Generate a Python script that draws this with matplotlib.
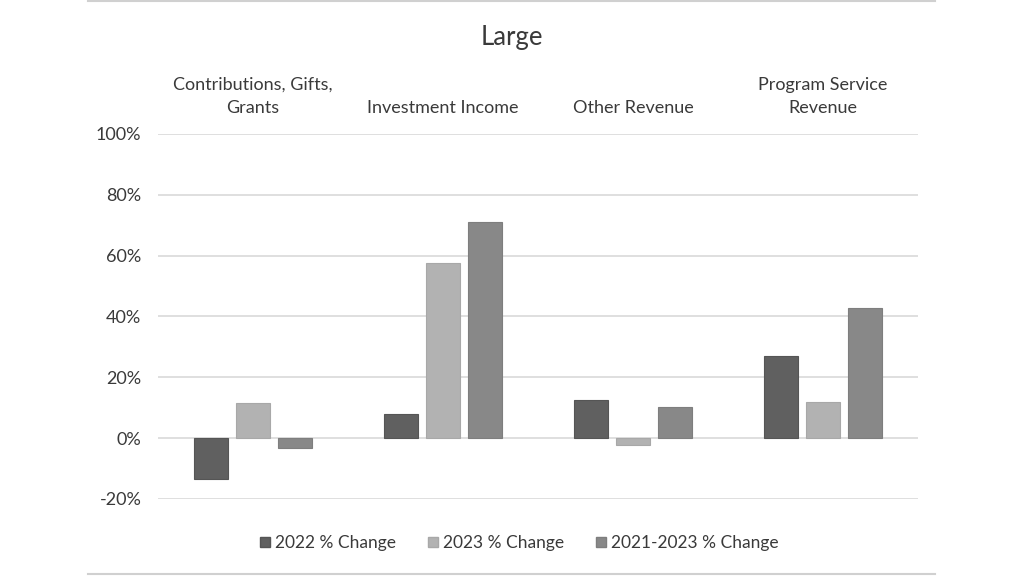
import numpy as np
import matplotlib.pyplot as plt
from matplotlib.lines import Line2D

# ===============================
# DATA
# ===============================
categories = ["Contributions, Gifts,\nGrants", "Investment Income",
              "Other Revenue", "Program Service\nRevenue"]
series_names = ["2022 % Change", "2023 % Change", "2021-2023 % Change"]
change_2022 = [-13.5, 8.1, 12.4, 27.0]
change_2023 = [11.4, 57.6, -2.3, 11.9]
change_2021_2023 = [-3.3, 71.1, 10.2, 42.7]
y_ticks = [-20, 0, 20, 40, 60, 80, 100]

colors = ["#606060", "#b2b2b2", "#888888"]
edges = ["#555555", "#a8a8a8", "#7e7e7e"]
text_color = "#3a3a3a"

plt.rcParams['font.family'] = ['Lato', 'DejaVu Sans']

fig = plt.figure(figsize=(10.24, 5.76), dpi=100)
ax = fig.add_axes([0.1543, 0.1337, 0.7422, 0.6337])

x = np.arange(len(categories))
width = 0.174
step = 0.221
for i, vals in enumerate([change_2022, change_2023, change_2021_2023]):
    ax.bar(x + (i - 1) * step, vals, width, color=colors[i],
           edgecolor=edges[i], linewidth=0.8, label=series_names[i], zorder=3)

ax.set_xlim(-0.5, len(categories) - 0.5)
ax.set_ylim(-20, 100)
ax.set_yticks(y_ticks)
ax.set_yticklabels([f"{t}%" for t in y_ticks], color=text_color, fontsize=13)
ax.grid(axis="y", color="#d9d9d9", linewidth=1.2, zorder=0)
ax.tick_params(axis="y", length=0, pad=12)

ax.xaxis.tick_top()
ax.set_xticks(x)
ax.set_xticklabels(categories, color=text_color, fontsize=13,
                   linespacing=1.55, va="bottom")
ax.tick_params(axis="x", length=0, pad=13)

for s in ax.spines.values():
    s.set_visible(False)

fig.text(0.5, 0.935, "Large", ha="center", va="center",
         fontsize=18.5, color=text_color)

handles = [Line2D([], [], marker="s", linestyle="none", markersize=7.5,
                  markerfacecolor=colors[i], markeredgecolor=edges[i])
           for i in range(3)]
fig.legend(handles, series_names, loc="center", bbox_to_anchor=(0.503, 0.057),
           ncol=3, frameon=False, fontsize=12.5, handletextpad=-0.2,
           handlelength=1.6, columnspacing=1.3, labelcolor=text_color)

# frame lines at top and bottom
fig.add_artist(Line2D([0.086, 0.913], [0.999, 0.999], color="#d0d0d0", linewidth=1.5))
fig.add_artist(Line2D([0.086, 0.913], [0.003, 0.003], color="#d0d0d0", linewidth=1.5))

fig.savefig("out.png", dpi=100)
